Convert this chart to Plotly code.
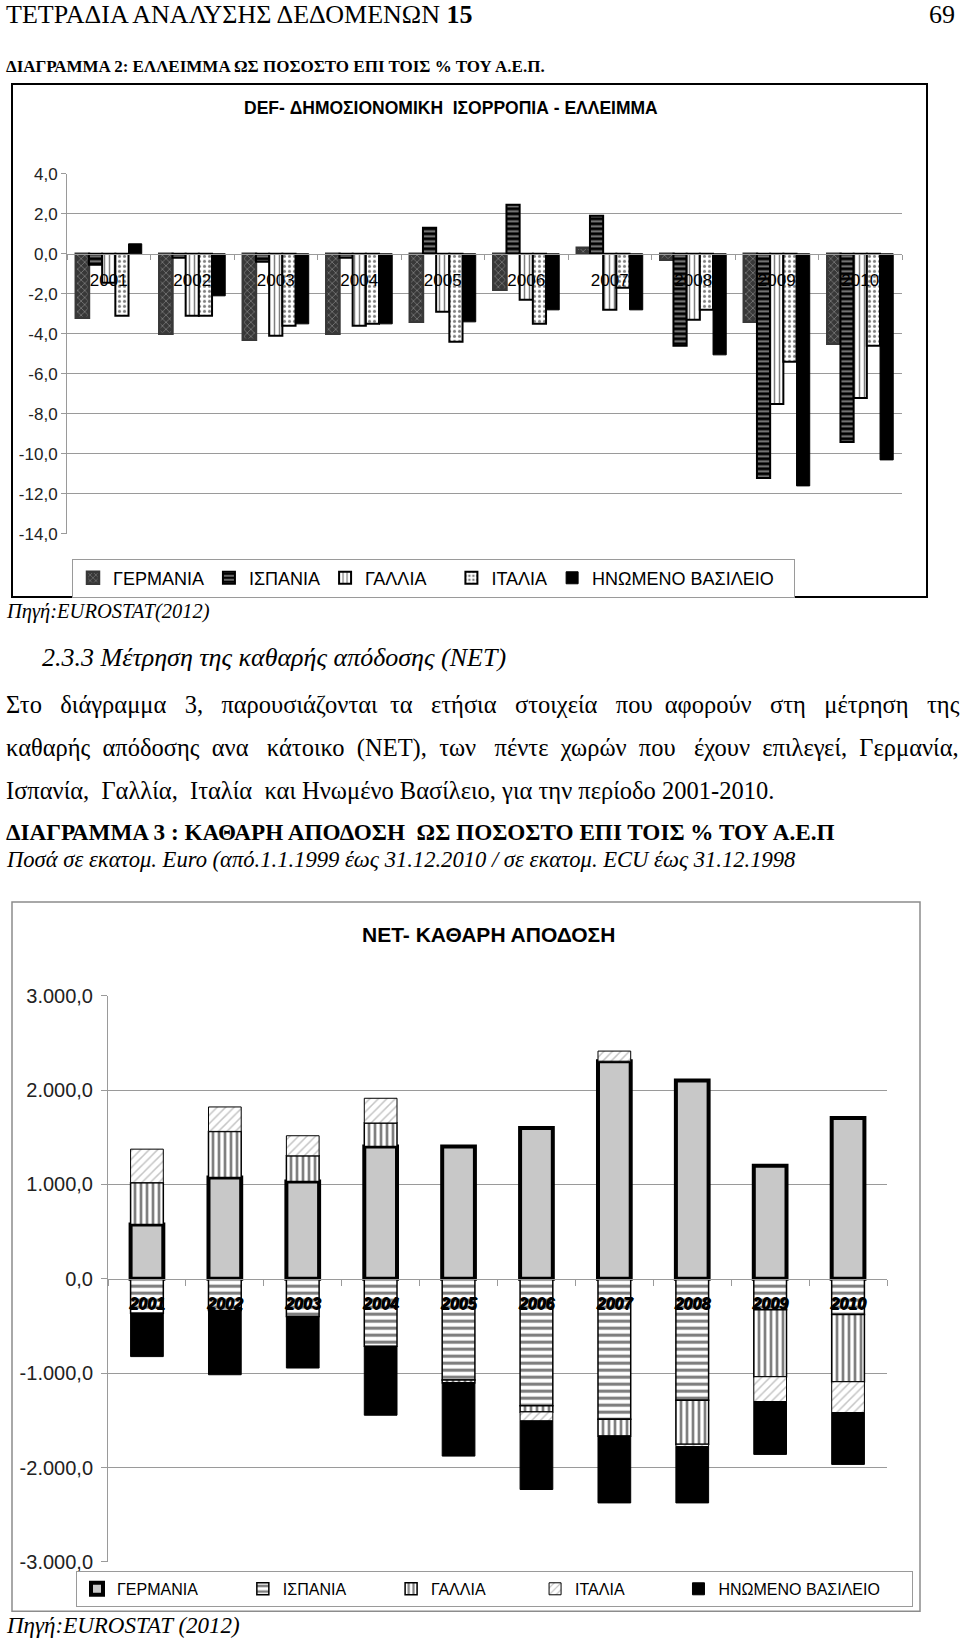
import plotly.graph_objects as go

W, H = 960, 1647

# ---------------- data ----------------
years = ["2001", "2002", "2003", "2004", "2005", "2006", "2007", "2008", "2009", "2010"]
countries = ["ΓΕΡΜΑΝΙΑ", "ΙΣΠΑΝΙΑ", "ΓΑΛΛΙΑ", "ΙΤΑΛΙΑ", "ΗΝΩΜΕΝΟ ΒΑΣΙΛΕΙΟ"]

# Chart 1: deficit as % of GDP
def_germany = [-3.2, -4.0, -4.3, -4.0, -3.4, -1.8, 0.3, -0.3, -3.4, -4.5]
def_spain = [-0.55, -0.2, -0.4, -0.2, 1.3, 2.45, 1.9, -4.6, -11.2, -9.4]
def_france = [-1.45, -3.1, -4.1, -3.6, -2.9, -2.3, -2.8, -3.3, -7.5, -7.2]
def_italy = [-3.1, -3.1, -3.6, -3.5, -4.4, -3.5, -1.7, -2.8, -5.4, -4.6]
def_uk = [0.5, -2.1, -3.5, -3.5, -3.4, -2.8, -2.8, -5.05, -11.6, -10.3]
def_tickvals = [4, 2, 0, -2, -4, -6, -8, -10, -12, -14]
def_ticktext = ["4,0", "2,0", "0,0", "-2,0", "-4,0", "-6,0", "-8,0", "-10,0", "-12,0", "-14,0"]
def_gridvals = [2, -2, -4, -6, -8, -10, -12]

# Chart 2: net balance (million euro)
net_germany = [576, 1073, 1030, 1402, 1402, 1598, 2306, 2101, 1197, 1704]
net_spain = [-364, -335, -399, -715, -1072, -1345, -1487, -1285, -328, -378]
net_france = [443, 489, 273, 249, -30, -65, -178, -468, -709, -712]
net_italy = [355, 259, 213, 262, 0, -95, 107, -25, -263, -327]
net_uk = [-460, -681, -546, -730, -776, -727, -709, -596, -560, -549]
net_tickvals = [3000, 2000, 1000, 0, -1000, -2000, -3000]
net_ticktext = ["3.000,0", "2.000,0", "1.000,0", "0,0", "-1.000,0", "-2.000,0", "-3.000,0"]
net_gridvals = [2000, 1000, -1000, -2000]

# legend spacing pads (number of no-break spaces after each entry)
legend1_pad = [0, 0, 4, 0, 3]
legend2_pad = [9, 9, 10, 11, 6]


def px(x):
    return x / W


def py(y):
    return 1 - y / H


SANS = "Liberation Sans, Arial, sans-serif"
SERIF = "Liberation Serif, Times New Roman, serif"
NB = "\u00a0"

fig = go.Figure()

# ---------------- chart 1 ----------------
styles1 = [
    dict(color="#383838", pattern=dict(shape="x", fgcolor="white", bgcolor="#383838", size=5, solidity=0.2),
         line=dict(color="#383838", width=2.5)),
    dict(color="black", pattern=dict(shape="-", fgcolor="white", bgcolor="black", size=5, solidity=0.4),
         line=dict(color="black", width=2)),
    dict(color="white", pattern=dict(shape="|", fgcolor="black", bgcolor="white", size=5, solidity=0.3),
         line=dict(color="black", width=2)),
    dict(color="white", pattern=dict(shape=".", fgcolor="black", bgcolor="white", size=5, solidity=0.3),
         line=dict(color="black", width=2)),
    dict(color="black", line=dict(color="black", width=1)),
]
for name, pad, vals, st in zip(countries, legend1_pad,
                               [def_germany, def_spain, def_france, def_italy, def_uk], styles1):
    fig.add_trace(go.Bar(x=years, y=vals, name=name + NB * pad, marker=st, xaxis="x", yaxis="y",
                         legend="legend", hoverinfo="skip"))

# ---------------- chart 2 ----------------
series2 = [net_germany, net_spain, net_france, net_italy, net_uk]
pos = [0.0] * len(years)
neg = [0.0] * len(years)
bases2 = []
for s in series2:
    b = []
    for i, v in enumerate(s):
        if v >= 0:
            b.append(pos[i]); pos[i] += v
        else:
            b.append(neg[i]); neg[i] += v
    bases2.append(b)

styles2 = [
    dict(color="#c8c8c8", line=dict(color="black", width=4)),
    dict(color="white", pattern=dict(shape="-", fgcolor="black", bgcolor="white", size=7, solidity=0.45),
         line=dict(color="black", width=1.5)),
    dict(color="white", pattern=dict(shape="|", fgcolor="black", bgcolor="white", size=6, solidity=0.45),
         line=dict(color="black", width=1.5)),
    dict(color="white", pattern=dict(shape="/", fgcolor="#8a8a8a", bgcolor="white", size=6, solidity=0.25),
         line=dict(color="black", width=1)),
    dict(color="black", line=dict(color="black", width=1)),
]
for name, pad, vals, base, st in zip(countries, legend2_pad, series2, bases2, styles2):
    fig.add_trace(go.Bar(x=years, y=vals, base=base, name=name + NB * pad, marker=st, width=0.42,
                         offset=-0.21, xaxis="x2", yaxis="y2", legend="legend2", hoverinfo="skip"))

# dummy traces to hold overlay grid axes
fig.add_trace(go.Scatter(x=[], y=[], xaxis="x", yaxis="y3", showlegend=False))
fig.add_trace(go.Scatter(x=[], y=[], xaxis="x2", yaxis="y4", showlegend=False))

# axes geometry
d1 = [py(530), py(165)]
r1 = [-14, 4]
zero1 = d1[0] + (0 - r1[0]) / (r1[1] - r1[0]) * (d1[1] - d1[0])
d2 = [py(1572), py(998)]
r2 = [-3000, 3000]
zero2 = d2[0] + (0 - r2[0]) / (r2[1] - r2[0]) * (d2[1] - d2[0])

axis_gray = "#9a9a9a"

fig.update_layout(
    width=W, height=H,
    margin=dict(l=0, r=0, t=0, b=0),
    paper_bgcolor="white", plot_bgcolor="rgba(0,0,0,0)",
    barmode="group", bargap=0.21, bargroupgap=0,
    showlegend=True,
    xaxis=dict(domain=[px(67), px(902)], anchor="free", position=zero1, type="category",
               showline=True, linecolor=axis_gray, linewidth=1, ticks="outside", tickson="boundaries",
               ticklen=5, tickcolor=axis_gray, showgrid=False, zeroline=False,
               tickfont=dict(family=SANS, size=17, color="black"), ticklabelstandoff=11),
    yaxis=dict(domain=d1, anchor="x", range=r1, tickvals=def_tickvals, ticktext=def_ticktext,
               showline=True, linecolor=axis_gray, ticks="outside", ticklen=5, tickcolor=axis_gray,
               showgrid=False, zeroline=False, tickfont=dict(family=SANS, size=17, color="#222")),
    yaxis3=dict(overlaying="y", anchor="x", range=r1, tickvals=def_gridvals, showticklabels=False,
                ticks="", showgrid=True, gridcolor=axis_gray, gridwidth=1, showline=False, zeroline=False),
    xaxis2=dict(domain=[px(108), px(887)], anchor="free", position=zero2, type="category",
                showline=True, linecolor=axis_gray, linewidth=1, ticks="outside", tickson="boundaries",
                ticklen=6, tickcolor=axis_gray, showgrid=False, zeroline=False,
                tickfont=dict(family=SANS, size=16, color="black", weight="bold", style="italic",
                              shadow="1px 1px 0px #000"),
                ticklabelstandoff=10),
    yaxis2=dict(domain=d2, anchor="x2", range=r2, tickvals=net_tickvals, ticktext=net_ticktext,
                showline=True, linecolor=axis_gray, ticks="outside", ticklen=6, tickcolor=axis_gray,
                showgrid=False, zeroline=False, tickfont=dict(family=SANS, size=20, color="#222"),
                ticklabelstandoff=4),
    yaxis4=dict(overlaying="y2", anchor="x2", range=r2, tickvals=net_gridvals, showticklabels=False,
                ticks="", showgrid=True, gridcolor=axis_gray, gridwidth=1, showline=False, zeroline=False),
    legend=dict(orientation="h", x=px(72), y=py(555), xanchor="left", yanchor="top",
                bordercolor=axis_gray, borderwidth=1, bgcolor="white",
                font=dict(family=SANS, size=18, color="black"), traceorder="normal"),
    legend2=dict(orientation="h", x=px(76), y=py(1581), xanchor="left", yanchor="top",
                 bordercolor=axis_gray, borderwidth=1, bgcolor="white",
                 font=dict(family=SANS, size=16, color="black"), traceorder="normal"),
)

# chart frames
fig.add_shape(type="rect", xref="paper", yref="paper", x0=px(12), x1=px(927), y0=py(594), y1=py(74),
              line=dict(color="black", width=2), layer="below")
fig.add_shape(type="rect", xref="paper", yref="paper", x0=px(12), x1=px(920), y0=py(1622), y1=py(903),
              line=dict(color="#8c8c8c", width=1.5), layer="below")


def txt(x, y, text, size, family=SERIF, anchor="left", color="black"):
    fig.add_annotation(x=px(x), y=py(y), xref="paper", yref="paper", text=text, showarrow=False,
                       xanchor=anchor, yanchor="middle", font=dict(family=family, size=size, color=color))


def justify(words, extra):
    # join words with one normal space plus a number of no-break spaces per gap
    out = words[0]
    for i, w in enumerate(words[1:]):
        out += " " + NB * extra[i % len(extra)] + w
    return out


line1 = "Στο διάγραμμα 3, παρουσιάζονται τα ετήσια στοιχεία που αφορούν στη μέτρηση της".split(" ")
line2 = "καθαρής απόδοσης ανα κάτοικο (ΝΕΤ), των πέντε χωρών που έχουν επιλεγεί, Γερμανία,".split(" ")

txt(4, 4, "ΤΕΤΡΑΔΙΑ ΑΝΑΛΥΣΗΣ ΔΕΔΟΜΕΝΩΝ <b>15</b>", 26)
txt(957, 4, "69", 26, anchor="right")
txt(4, 56, "<b>ΔΙΑΓΡΑΜΜΑ 2: ΕΛΛΕΙΜΜΑ ΩΣ ΠΟΣΟΣΤΟ ΕΠΙ ΤΟΙΣ % ΤΟΥ Α.Ε.Π.</b>", 17)
txt(451, 98, "<b>DEF- ΔΗΜΟΣΙΟΝΟΜΙΚΗ  ΙΣΟΡΡΟΠΙΑ - ΕΛΛΕΙΜΜΑ</b>", 17.5, family=SANS, anchor="center")
txt(4, 609, "<i>Πηγή:EUROSTAT(2012)</i>", 20.5)
txt(40, 655, "<i>2.3.3 Μέτρηση της καθαρής απόδοσης (ΝΕΤ)</i>", 26)
txt(4, 703, justify(line1, [2, 2, 2, 1]), 24.5)
txt(4, 747, justify(line2, [1, 1, 2]), 24.5)
txt(4, 790, "Ισπανία,  Γαλλία,  Ιταλία  και Ηνωμένο Βασίλειο, για την περίοδο 2001-2010.", 24.5)
txt(4, 832, "<b>ΔΙΑΓΡΑΜΜΑ 3 : ΚΑΘΑΡΗ ΑΠΟΔΟΣΗ  ΩΣ ΠΟΣΟΣΤΟ ΕΠΙ ΤΟΙΣ % ΤΟΥ Α.Ε.Π</b>", 23.2)
txt(4, 860, "<i>Ποσά σε εκατομ. Euro (από.1.1.1999 έως 31.12.2010 / σε εκατομ. ECU έως 31.12.1998</i>", 22.6)
txt(488, 936, "<b>NET- ΚΑΘΑΡΗ ΑΠΟΔΟΣΗ</b>", 21, family=SANS, anchor="center")
txt(4, 1636, "<i>Πηγή:EUROSTAT (2012)</i>", 23)

fig.write_html("out.html", post_script="document.body.style.margin='0';",
               config={"displayModeBar": False})
